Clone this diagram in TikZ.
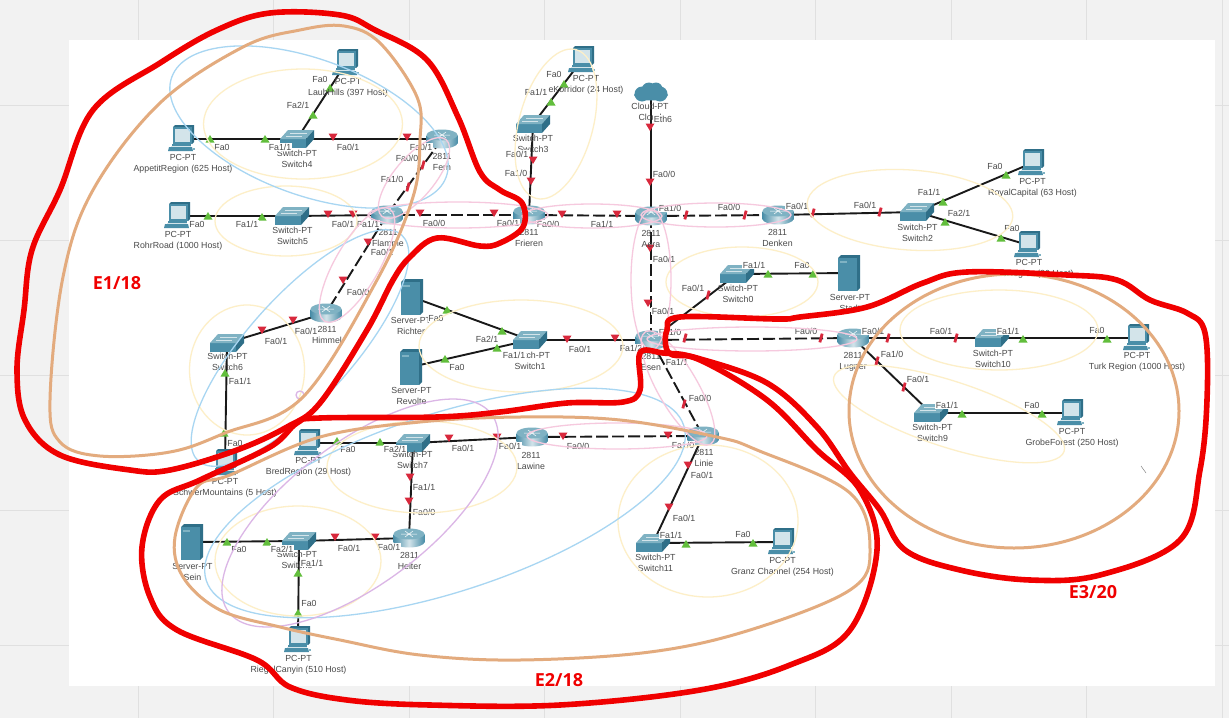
\documentclass[tikz,border=0pt]{standalone}
\usepackage{fontspec}
\setmainfont{Liberation Sans}
\newfontfamily\notefont{Open Sans}
\usetikzlibrary{calc}
\pgfdeclarelayer{links}
\pgfsetlayers{links,main}
\definecolor{devmid}{HTML}{4A8EA8}
\definecolor{devdark}{HTML}{2F6F88}
\definecolor{devlite}{HTML}{D3E4EA}
\definecolor{devtop}{HTML}{7FB2C3}
\definecolor{zoneyellow}{HTML}{FDEFC8}
\definecolor{zoneblue}{HTML}{A8D6F2}
\definecolor{zonepink}{HTML}{F6C9DE}
\definecolor{zonepurple}{HTML}{DBB6E6}
\definecolor{zonetan}{HTML}{E3AB7E}
\definecolor{handred}{HTML}{F00000}
\definecolor{portred}{HTML}{D8283C}
\definecolor{portgreen}{HTML}{62BE3C}
\definecolor{labtext}{HTML}{4A4A4A}
\def\zonering[#1](#2)(#3:#4:#5){\draw[#1,shift={(#2)},rotate=#5] (0,0) ellipse [x radius=#3,y radius=#4];}
\def\iconpc{
	\fill[devdark] (-9,-12) -- (-7,-14) -- (12,-14) -- (12,3) -- (10,5) -- cycle;
	\fill[devmid] (-9,-12) rectangle (10,5);
	\fill[devlite] (-7,-10) rectangle (8,3);
	\fill[devmid] (-10,5) rectangle (9,7);
	\fill[devlite] (-11,7) rectangle (9,8);
	\fill[devmid] (-13,8) -- (10,8) -- (11,12) -- (-14,12) -- cycle;
	\fill[devtop] (11,9) rectangle (13,11);
}
\def\iconswitch{
	\fill[devmid] (-17,0) rectangle (9,9);
	\fill[devtop] (-17,0) -- (-9,-9) -- (17,-9) -- (9,0) -- cycle;
	\fill[devdark] (9,0) -- (17,-9) -- (17,0) -- (9,9) -- cycle;
	\draw[devlite,line width=0.4] (-11,-3) -- (5,-3) (-7,-6) -- (10,-6);
}
\def\iconrouter{
	\shade[left color=devmid,right color=devmid,middle color=devlite] (-15.5,-4) rectangle (15.5,4);
	\shade[left color=devmid,right color=devmid,middle color=devlite] (0,4) ellipse [x radius=15.5,y radius=5.5];
	\fill[devtop] (0,-4) ellipse [x radius=15.5,y radius=5.5];
	\draw[white,line width=0.5] (-8,-4) -- (8,-4) (-4,-7) -- (4,-1) (-4,-1) -- (4,-7);
}
\def\iconserver{
	\fill[devdark] (-11,-15) -- (-8,-18) -- (11,-18) -- (11,15) -- (8,18) -- cycle;
	\fill[devmid] (-11,-15) rectangle (8,18);
	\fill[devtop] (-9,-12) rectangle (-2,-10);
}
\def\iconcloud{
	\fill[devmid] (-9,2) circle (7.5) (9,2) circle (7.5) (-2,-2) circle (7.5) (5,-3) circle (6.5) (0,3) ellipse [x radius=17,y radius=5.5];
}
\tikzset{
	pcdev/.style={minimum width=28,minimum height=28,inner sep=0pt,path picture={\begin{scope}[shift={(path picture bounding box.center)}]\iconpc\end{scope}}},
	swdev/.style={minimum width=34,minimum height=18,inner sep=0pt,path picture={\begin{scope}[shift={(path picture bounding box.center)}]\iconswitch\end{scope}}},
	rtdev/.style={minimum width=31,minimum height=21,inner sep=0pt,path picture={\begin{scope}[shift={(path picture bounding box.center)}]\iconrouter\end{scope}}},
	srvdev/.style={minimum width=22,minimum height=36,inner sep=0pt,path picture={\begin{scope}[shift={(path picture bounding box.center)}]\iconserver\end{scope}}},
	clouddev/.style={minimum width=36,minimum height=20,inner sep=0pt,path picture={\begin{scope}[shift={(path picture bounding box.center)}]\iconcloud\end{scope}}},
	devlab/.style={align=center,inner sep=0pt,text=labtext,font=\fontsize{8.8}{11}\selectfont},
	portlab/.style={inner sep=0.6pt,fill=white,text=labtext,font=\fontsize{8.8}{10}\selectfont},
	link/.style={line width=1.9pt,black!90},
	vlink/.style={line width=1.9pt,black!90,dash pattern=on 12pt off 4pt},
	zone/.style={line width=1.3pt},
	handtan/.style={zonetan,line width=3pt},
	handline/.style={handred,line width=5.6pt,line join=round},
	notelab/.style={inner sep=0pt,text=handred,font=\notefont\bfseries\fontsize{18}{20}\selectfont}
}
\begin{document}
\begin{tikzpicture}[x=1pt,y=-1pt]
	\useasboundingbox (0,0) rectangle (1229,718);
	\begin{pgfonlayer}{links}
		\fill[black!5] (0,0) rectangle (1229,718);
		\foreach \gx in {138,273.5,409,544.5,680,815.5,951,1086.5,1222} \draw[black!12] (\gx,0) -- (\gx,718);
		\foreach \gy in {105,240,375,510,645} \draw[black!12] (0,\gy) -- (1229,\gy);
		\fill[white] (69,40) rectangle (1215,686);
	\end{pgfonlayer}

	% devices, upper left
	\node[pcdev] (pcLaub) at (346,63) {};
	\node[pcdev] (pcAppetit) at (182,139) {};
	\node[swdev] (swFour) at (297,139) {};
	\node[rtdev] (rtFern) at (442,139) {};
	\node[pcdev] (pcRohr) at (178,216) {};
	\node[swdev] (swFive) at (292,216) {};
	\node[rtdev] (rtFlamme) at (387,215) {};
	\node[rtdev] (rtHimmel) at (326,313) {};
	\node[swdev] (swSix) at (227,343) {};
	\node[pcdev] (pcSchwer) at (225,463) {};
	% devices, top middle
	\node[rtdev] (rtFrieren) at (529,215) {};
	\node[swdev] (swThree) at (533,124) {};
	\node[pcdev] (pcKorridor) at (582,60) {};
	\node[clouddev] (cloudEth) at (651,92) {};
	\node[rtdev] (rtAera) at (651,216) {};
	\node[rtdev] (rtDenken) at (778,215) {};
	\node[swdev] (swTwo) at (917,212) {};
	\node[pcdev] (pcRoyal) at (1032,163) {};
	\node[pcdev] (pcWhite) at (1028,245) {};
	% devices, middle
	\node[swdev] (swZero) at (737,274) {};
	\node[srvdev] (srvStadt) at (849,273) {};
	\node[rtdev] (rtEsen) at (651,340) {};
	\node[swdev] (swOne) at (530,340) {};
	\node[srvdev] (srvRichter) at (412,297) {};
	\node[srvdev] (srvRevolte) at (411,367) {};
	\node[rtdev] (rtLugner) at (853,338) {};
	\node[swdev] (swTen) at (992,338) {};
	\node[pcdev] (pcTurk) at (1137,338) {};
	\node[swdev] (swNine) at (931,413) {};
	\node[pcdev] (pcGrobe) at (1071,413) {};
	% devices, lower part
	\node[pcdev] (pcBred) at (308,443) {};
	\node[swdev] (swSeven) at (413,443) {};
	\node[rtdev] (rtLawine) at (532,437) {};
	\node[rtdev] (rtLinie) at (703,436) {};
	\node[rtdev] (rtHeiter) at (409,538) {};
	\node[swdev] (swEight) at (299,541) {};
	\node[srvdev] (srvSein) at (192,542) {};
	\node[pcdev] (pcRiegel) at (298,640) {};
	\node[swdev] (swEleven) at (653,543) {};
	\node[pcdev] (pcGranz) at (782,542) {};

	\begin{pgfonlayer}{links}
		\draw[link] (pcLaub.center) -- (swFour.center);
		\draw[link] (pcAppetit.center) -- (swFour.center);
		\draw[link] (swFour.center) -- (rtFern.center);
		\draw[vlink] (rtFern.center) -- (rtFlamme.center);
		\draw[link] (pcRohr.center) -- (swFive.center);
		\draw[link] (swFive.center) -- (rtFlamme.center);
		\draw[vlink] (rtFlamme.center) -- (rtFrieren.center);
		\draw[vlink] (rtFlamme.center) -- (rtHimmel.center);
		\draw[link] (rtHimmel.center) -- (swSix.center);
		\draw[link] (swSix.center) -- (pcSchwer.center);
		\draw[link] (swThree.center) -- (rtFrieren.center);
		\draw[link] (pcKorridor.center) -- (swThree.center);
		\draw[vlink] (rtFrieren.center) -- (rtAera.center);
		\draw[vlink] (rtAera.center) -- (rtDenken.center);
		\draw[link] (cloudEth.center) -- (rtAera.center);
		\draw[link] (rtDenken.center) -- (swTwo.center);
		\draw[link] (swTwo.center) -- (pcRoyal.center);
		\draw[link] (swTwo.center) -- (pcWhite.center);
		\draw[vlink] (rtAera.center) -- (rtEsen.center);
		\draw[link] (rtEsen.center) -- (swZero.center);
		\draw[link] (swZero.center) -- (srvStadt.center);
		\draw[link] (swOne.center) -- (rtEsen.center);
		\draw[link] (srvRichter.center) -- (swOne.center);
		\draw[link] (srvRevolte.center) -- (swOne.center);
		\draw[vlink] (rtEsen.center) -- (rtLugner.center);
		\draw[vlink] (rtEsen.center) -- (rtLinie.center);
		\draw[link] (rtLugner.center) -- (swTen.center);
		\draw[link] (swTen.center) -- (pcTurk.center);
		\draw[link] (rtLugner.center) -- (swNine.center);
		\draw[link] (swNine.center) -- (pcGrobe.center);
		\draw[vlink] (rtLawine.center) -- (rtLinie.center);
		\draw[link] (swSeven.center) -- (rtLawine.center);
		\draw[link] (pcBred.center) -- (swSeven.center);
		\draw[link] (swSeven.center) -- (rtHeiter.center);
		\draw[link] (rtHeiter.center) -- (swEight.center);
		\draw[link] (srvSein.center) -- (swEight.center);
		\draw[link] (swEight.center) -- (pcRiegel.center);
		\draw[link] (rtLinie.center) -- (swEleven.center);
		\draw[link] (swEleven.center) -- (pcGranz.center);
	\end{pgfonlayer}

	% port lights
	\foreach \mx/\my in {330/88,313/115,210/139,265/139,208/216,262/217,564/84,551/102,1006/175,943/202,945/222,1001/238,813/274,1023/339,1107/339,962/414,1042/414,768/274,447/310,502/331,497/348,445/359,225/373,224/433,337/441,380/442,227/542,267/542,298/573,298/613,686/544,753/543}
		\fill[portgreen,shift={(\mx,\my)}] (-4.5,3.5) -- (4.5,3.5) -- (0,-4) -- cycle;
	\foreach \mx/\my in {333/137,407/137,328/214,353/214,420/213,368/242,343/280,494/213,562/214,617/214,533/160,531/181,650/127,650/182,650/248,648/303,615/338,567/339,563/436,668/435,688/465,262/330,293/320,449/438,497/437,410/477,409/501,335/537,375/537,669/507}
		\fill[portred,shift={(\mx,\my)}] (-4.5,-3.5) -- (4.5,-3.5) -- (0,4) -- cycle;
	\foreach \mx/\my in {423/165,408/187,686/215,745/215,813/213,880/212,821/338,888/338,956/338,877/361,904/387,685/338,708/295,684/404}
		\fill[portred,shift={(\mx,\my)},rotate=-15] (-1.4,-4.5) rectangle (1.4,4.5);

	% device captions
	\node[devlab] (capLaub) at (348,88) {PC-PT\\LaubHills (397 Host)};
	\node[devlab] (capAppetit) at (183,163.5) {PC-PT\\AppetitRegion (625 Host)};
	\node[devlab] (capFour) at (297,158.5) {Switch-PT\\Switch4};
	\node[devlab] (capFern) at (442,161.5) {2811\\Fern};
	\node[devlab] (capRohr) at (178,240.5) {PC-PT\\RohrRoad (1000 Host)};
	\node[devlab] (capFive) at (292.5,235.5) {Switch-PT\\Switch5};
	\node[devlab] (capFlamme) at (388,237.5) {2811\\Flamme};
	\node[devlab] (capHimmel) at (327,335) {2811\\Himmel};
	\node[devlab] (capSix) at (227.5,362) {Switch-PT\\Switch6};
	\node[devlab] (capSchwer) at (225,487.5) {PC-PT\\SchwerMountains (5 Host)};
	\node[devlab] (capFrieren) at (529,237.5) {2811\\Frieren};
	\node[devlab] (capThree) at (533,143.5) {Switch-PT\\Switch3};
	\node[devlab] (capKorridor) at (586,85) {PC-PT\\eKorridor (24 Host)};
	\node[devlab] (capCloud) at (650,111.5) {Cloud-PT\\Cloud};
	\node[devlab] (capAera) at (651,239) {2811\\Aera};
	\node[devlab] (capDenken) at (777.5,237.5) {2811\\Denken};
	\node[devlab] (capTwo) at (917.5,232.5) {Switch-PT\\Switch2};
	\node[devlab] (capRoyal) at (1032.5,187.5) {PC-PT\\RoyalCapital (63 Host)};
	\node[devlab] (capWhite) at (1029,269) {PC-PT\\WhiteRegion (30 Host)};
	\node[devlab] (capZero) at (738,293.5) {Switch-PT\\Switch0};
	\node[devlab] (capStadt) at (850,302.5) {Server-PT\\Stadt};
	\node[devlab] (capEsen) at (651,362) {2811\\Esen};
	\node[devlab] (capOne) at (530,360.5) {Switch-PT\\Switch1};
	\node[devlab] (capRichter) at (411,326) {Server-PT\\Richter};
	\node[devlab] (capRevolte) at (411.5,396) {Server-PT\\Revolte};
	\node[devlab] (capLugner) at (853,361.5) {2811\\Lugner};
	\node[devlab] (capTen) at (993,358.5) {Switch-PT\\Switch10};
	\node[devlab] (capTurk) at (1137,362) {PC-PT\\Turk Region (1000 Host)};
	\node[devlab] (capNine) at (932.5,432.5) {Switch-PT\\Switch9};
	\node[devlab] (capGrobe) at (1072,437.5) {PC-PT\\GrobeForest (250 Host)};
	\node[devlab] (capBred) at (308.5,466.5) {PC-PT\\BredRegion (29 Host)};
	\node[devlab] (capSeven) at (412.5,460) {Switch-PT\\Switch7};
	\node[devlab] (capLawine) at (531,460.5) {2811\\Lawine};
	\node[devlab] (capLinie) at (704,458) {2811\\Linie};
	\node[devlab] (capHeiter) at (409.5,560.5) {2811\\Heiter};
	\node[devlab] (capEight) at (297,560) {Switch-PT\\Switch8};
	\node[devlab] (capSein) at (192.5,571.5) {Server-PT\\Sein};
	\node[devlab] (capRiegel) at (298.5,665) {PC-PT\\RiegelCanyin (510 Host)};
	\node[devlab] (capEleven) at (655.5,562.5) {Switch-PT\\Switch11};
	\node[devlab] (capGranz) at (782.5,566.5) {PC-PT\\Granz Channel (254 Host)};

	% port names
	\foreach \lx/\ly/\lt [count=\i] in {320/79/{Fa0},298/105/{Fa2/1},222/147/{Fa0},280/147/{Fa1/1},348/147/{Fa0/1},421/147/{Fa0/1},407/158/{Fa0/0},392/179/{Fa1/0},197/224/{Fa0},247/224/{Fa1/1},343/224/{Fa0/1},368/224/{Fa1/1},434/223/{Fa0/0},382/252/{Fa0/1},554/74/{Fa0},536/92/{Fa1/1},517/154/{Fa0/1},516/173/{Fa1/0},508/223/{Fa0/1},548/224/{Fa0/0},602/224/{Fa1/1},670/208/{Fa1/0},729/207/{Fa0/0},797/206/{Fa0/1},865/205/{Fa0/1},663/119/{Eth6},664/174/{Fa0/0},664/259/{Fa0/1},995/166/{Fa0},929/192/{Fa1/1},959/213/{Fa2/1},1012/228/{Fa0},873/331/{Fa0/1},941/331/{Fa0/1},1008/331/{Fa1/1},1097/330/{Fa0},892/354/{Fa1/0},918/379/{Fa0/1},947/405/{Fa1/1},1032/405/{Fa0},806/331/{Fa0/0},754/265/{Fa1/1},802/265/{Fa0},693/288/{Fa0/1},663/311/{Fa0/1},670/332/{Fa1/0},580/349/{Fa0/1},631/348/{Fa1/2},514/355/{Fa1/1},677/362/{Fa1/1},700/398/{Fa0/0},510/446/{Fa0/1},578/446/{Fa0/0},683/445/{Fa1/0},702/475/{Fa0/1},358/292/{Fa0/0},306/331/{Fa0/1},276/341/{Fa0/1},436/318/{Fa0},487/339/{Fa2/1},457/367/{Fa0},240/381/{Fa1/1},235/443/{Fa0},348/449/{Fa0},395/449/{Fa2/1},463/448/{Fa0/1},424/487/{Fa1/1},424/512/{Fa0/0},239/549/{Fa0},282/549/{Fa2/1},349/548/{Fa0/1},389/547/{Fa0/1},312/563/{Fa1/1},309/603/{Fa0},684/518/{Fa0/1},671/535/{Fa1/1},743/534/{Fa0}}
		\node[portlab] (port\i) at (\lx,\ly) {\lt};

	% thin zones
	\zonering[zone,zoneyellow](303,124)(99.5:55:0)
	\zonering[zone,zoneyellow](286,221)(71:35:0)
	\zonering[zone,zoneyellow](556,124)(77:37:75)
	\zonering[zone,zoneyellow](910,210)(103:40:-4)
	\zonering[zone,zoneyellow](742,282)(76:35:0)
	\zonering[zone,zoneyellow](521,346)(102:46:0)
	\zonering[zone,zoneyellow](247,370)(57.5:65:0)
	\zonering[zone,zoneyellow](422,467)(95:46:0)
	\zonering[zone,zoneyellow](298,561)(83:55:0)
	\zonering[zone,zoneyellow](708,521)(90:76:0)
	\zonering[zone,zoneyellow](999,330)(99:40:0)
	\zonering[zone,zoneyellow](949,414)(121:33:-18)
	\zonering[zone,zoneblue](309,127)(146:68:-20)
	\zonering[zone,zoneblue](300,348)(152:52:48)
	\zonering[zone,zoneblue](445,503)(251:89:18)
	\zonering[zone,zonepurple](360,513)(164.5:70.7:37)
	\zonering[zone,zonepink](414,178)(50:20:50)
	\zonering[zone,zonepink](357,265)(65:22:60)
	\zonering[zone,zonepink](458,215)(90:13:0)
	\zonering[zone,zonepink](592,216)(70:12:0)
	\zonering[zone,zonepink](716,215)(75:12:0)
	\zonering[zone,zonepink](651,280)(70:20:90)
	\zonering[zone,zonepink](752,339)(105:12:0)
	\zonering[zone,zonepink](678,388)(65:20:-60)
	\zonering[zone,zonepink](617,436)(90:13:0)
	\draw[zone,zonepurple] (300,395) circle (4);
	\draw[black!55] (1141,466) -- (1146,473);

	% hand drawn tan
	\draw[handtan] plot[smooth cycle,tension=0.6] coordinates {(344,26) (380,43) (417,97) (420,140) (413,197) (377,280) (303,397) (225,433) (170,452) (100,456) (60,442) (50,400) (63,277) (93,190) (160,103) (243,47) (300,30)};
	\draw[handtan] plot[smooth cycle,tension=0.6] coordinates {(520,417) (620,420) (717,437) (757,450) (850,493) (870,550) (850,590) (750,630) (650,652) (520,660) (420,655) (340,640) (280,627) (220,610) (183,577) (175,537) (197,487) (230,475) (320,437) (420,422)};
	\draw[handtan] (1014,411) ellipse [x radius=165,y radius=137];

	% hand drawn red
	\draw[handline] plot[smooth cycle,tension=0.6] coordinates {(270,13) (340,15) (375,30) (427,60) (458,117) (480,172) (500,190) (522,203) (523,227) (500,243) (480,246) (437,238) (410,257) (393,280) (367,330) (320,403) (287,427) (237,450) (170,470) (130,470) (60,455) (25,420) (17,370) (24,310) (32,250) (60,190) (93,110) (160,63) (217,30)};
	\draw[handline] plot[smooth cycle,tension=0.6] coordinates {(640,353) (640,390) (623,402) (567,403) (500,412) (437,417) (320,418) (297,423) (270,447) (200,480) (160,500) (142,547) (150,597) (177,630) (257,660) (290,687) (347,700) (430,705) (560,705) (700,690) (790,665) (850,630) (877,550) (860,490) (817,450) (767,400) (700,360) (663,353)};
	\draw[handline] plot[smooth cycle,tension=0.6] coordinates {(800,317) (867,307) (923,283) (967,272) (1067,275) (1117,280) (1150,300) (1187,313) (1205,333) (1207,400) (1200,470) (1180,540) (1100,575) (1030,580) (960,570) (905,550) (880,510) (850,473) (817,427) (767,383) (697,358) (673,355) (666,347) (667,330) (680,317) (777,319)};

	\node[notelab] (noteOne) at (117,283) {E1/18};
	\node[notelab] (noteTwo) at (559,680) {E2/18};
	\node[notelab] (noteThree) at (1093,592) {E3/20};
\end{tikzpicture}
\end{document}
